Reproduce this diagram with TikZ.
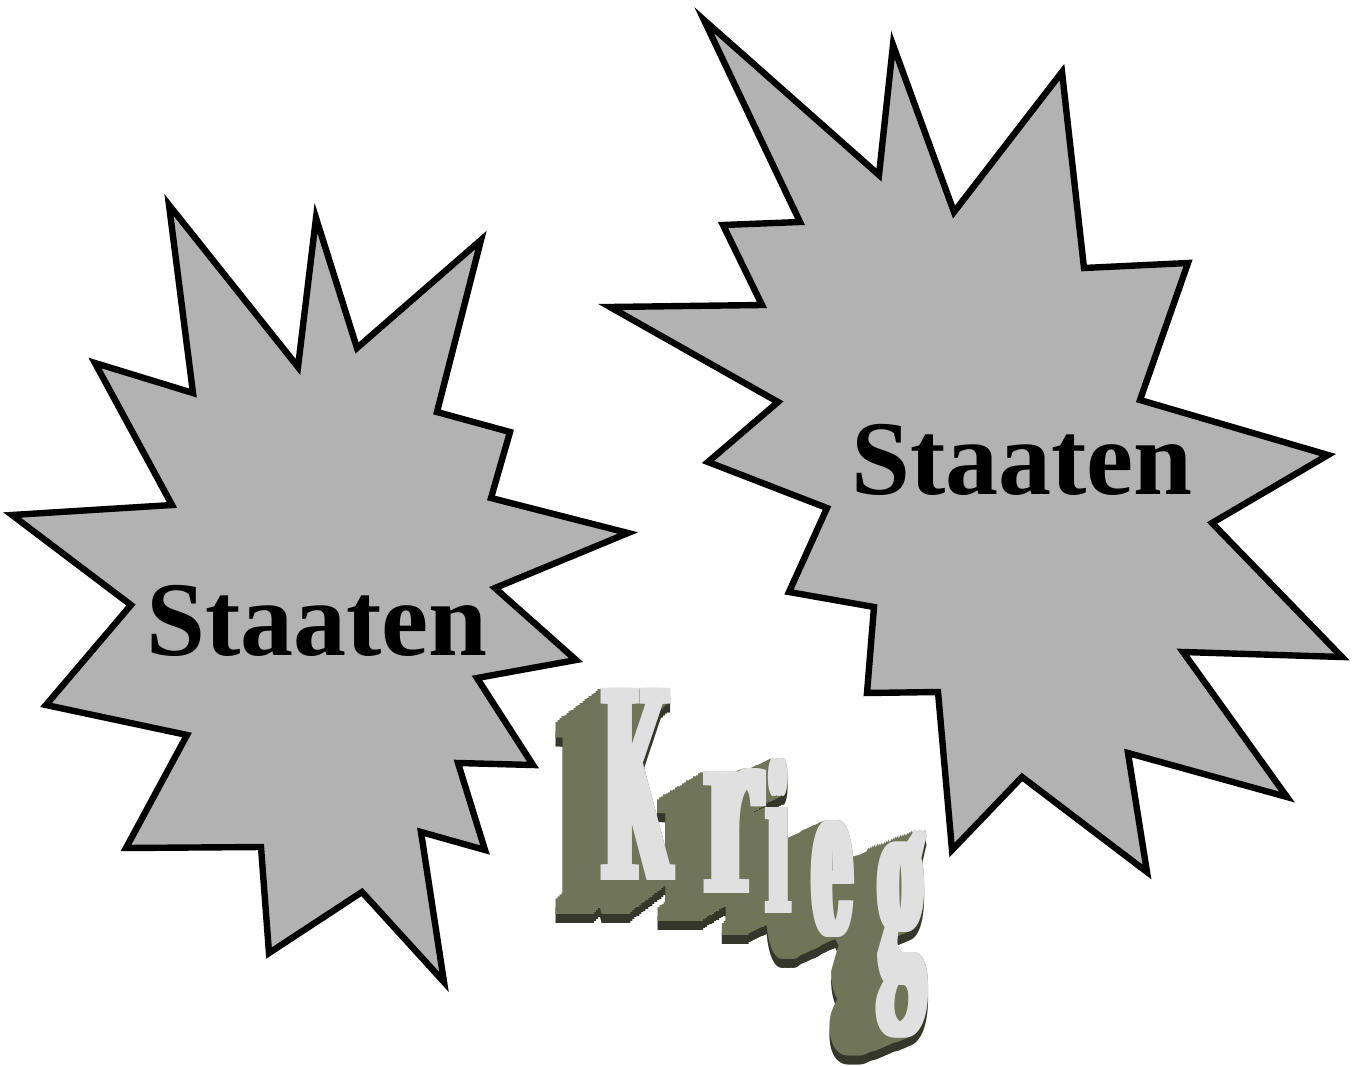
\documentclass[tikz,border=0pt]{standalone}
\usepackage{fontspec}
\setmainfont{Liberation Serif}
\newfontfamily\kriegfont{DejaVu Serif}
\usepackage{graphicx}

\definecolor{burstgray}{HTML}{B2B2B2}
\definecolor{kriegolive}{HTML}{707458}
\definecolor{kriegdark}{HTML}{35372A}
\definecolor{kriegface}{HTML}{E0E0E0}

\begin{document}
\begin{tikzpicture}[x=0.5pt,y=-0.5pt,
  burst/.style={draw=black,fill=burstgray,line width=3.2pt,line join=miter},
  state name/.style={font=\fontsize{53}{60}\selectfont\bfseries,inner sep=0pt,anchor=base},
  letter box/.style={inner sep=0pt,outer sep=0pt,anchor=north west}]

  \useasboundingbox (0,0) rectangle (1356,1066);

  % left state
  \draw[burst] (169,205) -- (298,367) -- (316,218) -- (357,348) -- (481,240)
    -- (437,412) -- (510,432) -- (491,498) -- (628,533) -- (495,588)
    -- (576,660) -- (477,678) -- (533,765) -- (458,763) -- (485,850)
    -- (421,832) -- (444,982) -- (362,892) -- (269,953) -- (261,847)
    -- (126,848) -- (187,735) -- (46,705) -- (131,605) -- (12,515)
    -- (172,505) -- (95,363) -- (193,393) -- cycle;
  \node[state name] (left) at (317,655) {Staaten};

  % right state
  \draw[burst] (704,20) -- (879,175) -- (893,45) -- (954,212) -- (1062,72)
    -- (1084,268) -- (1188,263) -- (1140,400) -- (1328,455) -- (1212,523)
    -- (1342,657) -- (1183,652) -- (1287,797) -- (1128,753) -- (1147,872)
    -- (1022,777) -- (952,850) -- (938,692) -- (867,693) -- (874,607)
    -- (789,592) -- (827,508) -- (708,462) -- (778,402) -- (610,307)
    -- (762,305) -- (723,225) -- (800,222) -- cycle;
  \node[state name] (right) at (1022,494) {Staaten};

  % Krieg: dark underside, olive depth, then the faces
  \foreach \ch/\x/\y/\w/\h/\dx/\dy/\fnt in {K/597/688/33/96/-45/34/\kriegfont, r/700/768/27.5/62.5/-46/28/\kriegfont,
      i/763/758/10/77.5/-43/22/\kriegfont, e/808/820/19.5/58.5/-45/22/\kriegfont, g/873/830/23/104/-46/18/\rmfamily}
    \foreach \k in {20,...,0}
      \foreach \s in {0,5,10}
        \node[letter box,text=kriegdark] (\ch-under-\k-\s) at ({\x+\s+\k/20*(\dx)},{\y+\k/20*(\dy)+9})
          {\resizebox*{\w pt}{\h pt}{\fnt\bfseries\ch}};
  \foreach \ch/\x/\y/\w/\h/\dx/\dy/\fnt in {K/597/688/33/96/-45/34/\kriegfont, r/700/768/27.5/62.5/-46/28/\kriegfont,
      i/763/758/10/77.5/-43/22/\kriegfont, e/808/820/19.5/58.5/-45/22/\kriegfont, g/873/830/23/104/-46/18/\rmfamily}
    \foreach \k in {20,...,0}
      \foreach \s in {0,5,10}
        \node[letter box,text=kriegolive] (\ch-depth-\k-\s) at ({\x+\s+\k/20*(\dx)},{\y+\k/20*(\dy)})
          {\resizebox*{\w pt}{\h pt}{\fnt\bfseries\ch}};
  \foreach \ch/\x/\y/\w/\h/\fnt in {K/597/688/33/96/\kriegfont, r/700/768/27.5/62.5/\kriegfont,
      i/763/758/10/77.5/\kriegfont, e/808/820/19.5/58.5/\kriegfont, g/873/830/23/104/\rmfamily}
    \foreach \s in {0,2.5,...,10}
      \node[letter box,text=kriegface] (\ch-face-\s) at (\x+\s,\y)
        {\resizebox*{\w pt}{\h pt}{\fnt\bfseries\ch}};
\end{tikzpicture}
\end{document}
